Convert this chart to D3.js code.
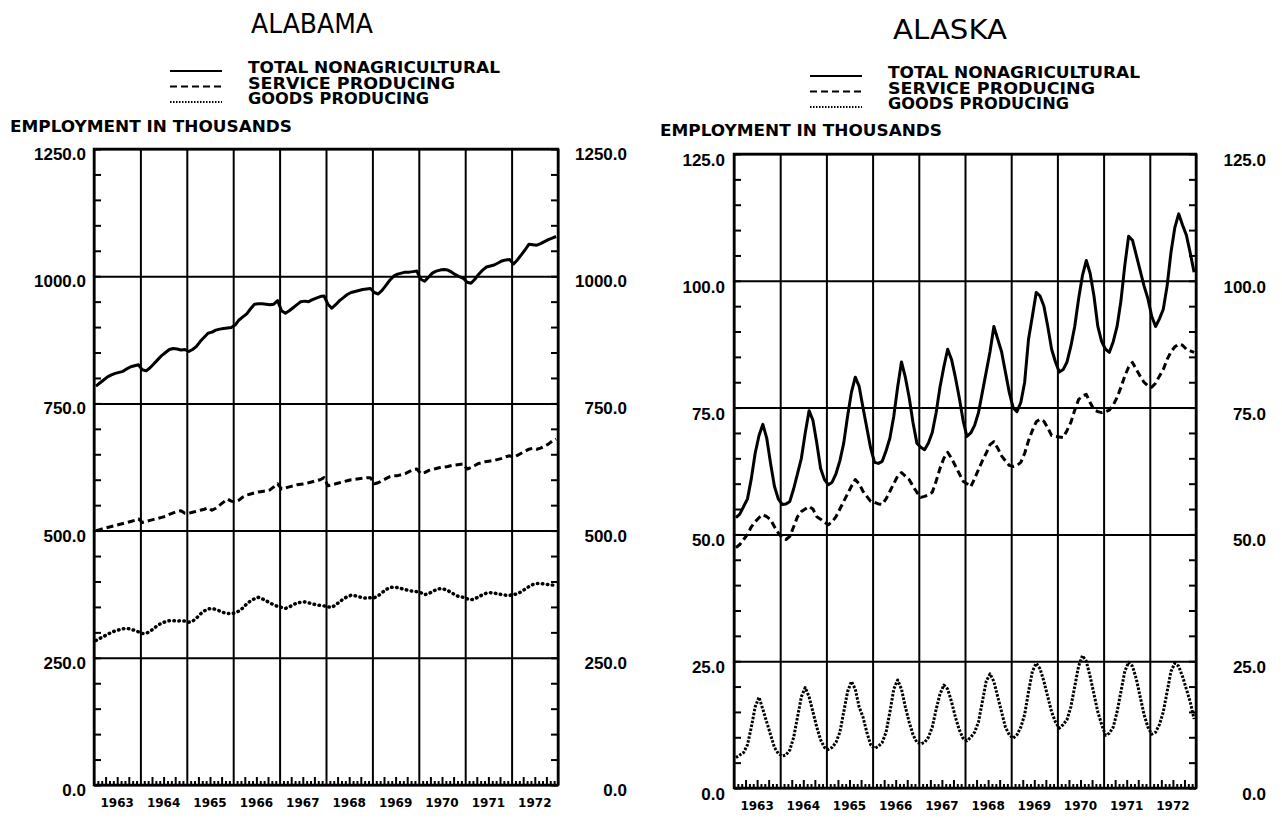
<!DOCTYPE html>
<html>
<head>
<title>EMPLOYMENT</title>
<script src="https://d3js.org/d3.v7.min.js"></script>
<style>
body { margin: 0; background: #ffffff; }
svg { background: #ffffff; font-family: "DejaVu Sans", sans-serif; }
.axis path { display: none; }
.axis line { stroke: #000; stroke-width: 2; }
.tick-lbl text { font-weight: bold; font-size: 17px; fill: #000; }
.year-lbl { font-weight: bold; font-size: 12px; }
.legend-txt { font-size: 15px; font-weight: bold; }
.title { font-size: 27px; }
</style>
</head>
<body>
<svg id="chart" width="1282" height="818"></svg>
<script>
// ---- data (monthly, jan 1963 .. dec 1972, thousands) ----
var years = [1963, 1964, 1965, 1966, 1967, 1968, 1969, 1970, 1971, 1972]
var seriesNames = ["TOTAL NONAGRICULTURAL", "SERVICE PRODUCING", "GOODS PRODUCING"]
var alabamaTicks = [0, 250, 500, 750, 1000, 1250]
var alaskaTicks = [0, 25, 50, 75, 100, 125]

var alabamaTotal = [
  784, 790, 796, 802, 806, 809, 811, 813, 818, 822, 824, 826,
  816, 814, 820, 828, 836, 844, 850, 856, 858, 857, 855, 856,
  852, 856, 862, 872, 880, 888, 890, 894, 896, 897, 898, 899,
  904, 914, 920, 926, 936, 945, 946, 946, 945, 944, 945, 952,
  932, 927, 932, 938, 944, 950, 951, 950, 954, 957, 960, 961,
  945, 937, 944, 952, 958, 964, 968, 970, 972, 974, 975, 976,
  968, 965, 972, 982, 992, 1000, 1004, 1006, 1008, 1008, 1009, 1010,
  994, 990, 998, 1006, 1010, 1012, 1013, 1012, 1008, 1003, 999, 996,
  988, 986, 994, 1004, 1012, 1018, 1020, 1022, 1026, 1030, 1032, 1033,
  1024, 1032, 1042, 1052, 1063, 1062, 1061, 1064, 1068, 1072, 1075, 1078
]
var alabamaService = [
  500, 502, 504, 506, 508, 510, 512, 514, 516, 518, 520, 523,
  516, 518, 520, 522, 524, 526, 528, 532, 535, 538, 539, 534,
  534, 536, 538, 540, 542, 545, 540, 544, 550, 556, 562, 558,
  556, 560, 566, 570, 572, 574, 576, 577, 578, 580, 586, 592,
  582, 584, 586, 588, 590, 591, 592, 594, 596, 598, 600, 604,
  588, 590, 592, 594, 596, 598, 600, 601, 602, 603, 604, 604,
  592, 594, 598, 602, 606, 608, 608, 610, 612, 616, 620, 621,
  612, 614, 618, 620, 622, 624, 625, 626, 628, 629, 630, 631,
  621, 624, 628, 632, 634, 636, 637, 638, 640, 642, 645, 647,
  644, 648, 652, 656, 660, 662, 660, 662, 666, 670, 676, 680
]
var alabamaGoods = [
  284, 288, 292, 296, 300, 303, 305, 307, 308, 306, 304, 301,
  298, 298, 302, 308, 314, 318, 321, 323, 323, 322, 323, 322,
  320, 322, 328, 336, 342, 346, 347, 345, 342, 339, 337, 337,
  338, 342, 348, 356, 362, 366, 369, 366, 362, 358, 354, 351,
  349, 347, 350, 354, 358, 359, 360, 358, 356, 354, 353, 352,
  350, 349, 354, 360, 366, 370, 373, 372, 370, 368, 367, 368,
  368, 372, 378, 384, 388, 389, 388, 386, 384, 382, 381, 380,
  378, 374, 376, 380, 384, 386, 385, 382, 378, 373, 370, 369,
  366, 364, 366, 370, 374, 377, 378, 377, 376, 374, 373, 373,
  374, 376, 380, 385, 390, 394, 396, 396, 395, 394, 393, 392
]

var alaskaTotal = [
  53.3, 54, 55.5, 57, 61, 66, 69.5, 71.7, 69, 64, 59.5, 57,
  55.9, 56, 56.5, 59, 62, 65, 70, 74.4, 72.5, 68, 63, 60.8,
  59.8, 60.3, 62, 64.5, 68, 73.3, 78, 81, 79.2, 75, 71, 67,
  64.2, 64, 64.4, 66.5, 69, 73.3, 79, 84, 81, 77, 72, 68,
  67.2, 66.7, 68, 70.1, 74, 79, 83, 86.5, 84.5, 81, 77, 72.5,
  69.3, 70, 71.5, 74, 78, 82, 86, 91, 88.5, 86, 82, 78,
  75, 74.2, 76, 80, 88.5, 93, 97.7, 97, 95, 91, 86.5, 84,
  82, 82.5, 84, 87.1, 91, 96.4, 101, 104, 101.5, 97, 91, 88,
  86.5, 85.9, 88, 91, 96, 103, 108.8, 108, 105, 102, 99, 96.5,
  93, 91, 92.5, 94.4, 99, 105.6, 110.5, 113.2, 111, 109, 105.5, 101.7
]
var alaskaService = [
  47.4, 48, 49, 50, 51.5, 52.5, 53.3, 53.9, 53.5, 52.9, 51.5, 50.3,
  49.3, 49, 49.6, 51.5, 53.5, 54.5, 55, 55.5, 55, 53.5, 53, 52.4,
  51.9, 52.5, 53.5, 55, 56.5, 58, 59.5, 60.8, 60, 58.5, 57.5, 56.5,
  56.3, 56, 55.9, 57, 58.5, 60, 61.5, 62.2, 61.5, 60.8, 59.5, 58.3,
  57.3, 57.5, 57.8, 58.3, 60.5, 63, 65, 66.2, 65, 63.5, 62, 60.5,
  60, 59.4, 61, 62.8, 64.5, 66, 67.7, 68.3, 67, 65.5, 64.5, 63.6,
  63.4, 63.6, 64.2, 66, 68.5, 70.5, 72.2, 72.7, 72.3, 71, 69.5, 69.3,
  69.2, 69.1, 70.5, 72.1, 74.5, 76.6, 77.3, 77.6, 76, 74.6, 74.2, 74,
  74.2, 74.5, 75.5, 77, 79, 81.2, 83, 83.9, 82.5, 81.2, 80, 79.3,
  79, 79.8, 81.2, 82.5, 84.5, 86, 87, 87.5, 87.3, 86.5, 86.2, 85.9
]
var alaskaGoods = [
  6, 6.5, 7, 8.5, 12, 16, 17.9, 15.5, 13, 10.5, 8, 6.8,
  6.3, 6.5, 7.5, 10, 14, 18, 19.8, 18, 15, 12, 9.5, 8,
  7.6, 8, 9, 11, 15, 19, 21, 19.5, 16, 14, 11, 8.5,
  7.8, 8.2, 9, 11, 15, 19.5, 21.3, 19.5, 16, 13, 10.5, 9,
  8.7, 9, 10, 12, 15.5, 18.5, 20.3, 19.5, 17, 14, 11.5, 9.8,
  9.3, 10, 11, 13, 17, 21, 22.5, 21, 18, 15, 12, 10.5,
  9.8, 10.5, 12, 14.5, 19, 23, 24.6, 23.5, 21, 18, 15, 13,
  11.8, 12.5, 13.5, 16, 20, 24, 26.1, 25, 22, 18.5, 15, 12.5,
  10.4, 10.8, 12, 15, 19, 23, 24.8, 24, 21.5, 18, 14.5, 12,
  10.6, 11, 12.5, 15, 19, 23, 24.6, 24, 22, 19.5, 17, 13.6
]

// line looks: solid, dashed, dotted
var styles = [
  {dash: null, width: 3, cap: "butt"},
  {dash: "7,4", width: 3, cap: "butt"},
  {dash: "0.5,4.5", width: 3.5, cap: "round"}
]

var svg = d3.select("#chart")

function drawPanel(p)
{
    var x = d3.scaleLinear().domain([years[0], years[years.length - 1] + 1]).range([p.left, p.right])
    var y = d3.scaleLinear().domain([0, p.ticks[p.ticks.length - 1]]).range([p.bottom, p.top])
    var g = svg.append("g")
    var w = p.right - p.left

    // title
    g.append("text").attr("class", "title")
        .attr("x", p.titleX).attr("y", p.titleY)
        .attr("text-anchor", "middle")
        .attr("textLength", p.titleLen).attr("lengthAdjust", "spacingAndGlyphs")
        .text(p.title)

    // legend
    seriesNames.forEach(function(name, i) {
        var ly = p.legendY + i * 15.5
        g.append("line")
            .attr("x1", p.legendX).attr("x2", p.legendX + 52)
            .attr("y1", ly - 2).attr("y2", ly - 2)
            .attr("stroke", "#000").attr("stroke-width", 2)
            .attr("stroke-dasharray", i == 0 ? null : (i == 1 ? "7,4" : "1.5,1.5"))
        g.append("text").attr("class", "legend-txt")
            .attr("x", p.legendX + 78).attr("y", ly)
            .attr("textLength", p.legendLens[i]).attr("lengthAdjust", "spacingAndGlyphs")
            .text(name)
    })

    g.append("text").attr("class", "legend-txt")
        .attr("x", p.empX).attr("y", p.empY)
        .attr("textLength", 282).attr("lengthAdjust", "spacingAndGlyphs")
        .text("EMPLOYMENT IN THOUSANDS")

    // horizontal grid at major ticks
    g.append("g").attr("class", "axis")
        .attr("transform", "translate(" + p.left + ",0)")
        .call(d3.axisLeft(y).tickValues(p.ticks).tickSize(-w).tickFormat(""))

    // minor ticks, left and right, pointing inward
    g.append("g").attr("class", "axis")
        .attr("transform", "translate(" + p.left + ",0)")
        .call(d3.axisLeft(y).tickValues(p.minor).tickSize(-7).tickFormat(""))
    g.append("g").attr("class", "axis")
        .attr("transform", "translate(" + p.right + ",0)")
        .call(d3.axisRight(y).tickValues(p.minor).tickSize(-7).tickFormat(""))

    // vertical year lines
    g.append("g").attr("class", "axis")
        .attr("transform", "translate(0," + p.bottom + ")")
        .call(d3.axisBottom(x).tickValues(d3.range(years[0], years[years.length - 1] + 2)).tickSize(-(p.bottom - p.top)).tickFormat(""))

    // monthly ticks along the bottom
    var monthTicks = []
    years.forEach(function(yr) { for (var m = 1; m < 12; m++) monthTicks.push(yr + m / 12) })
    g.append("g").attr("class", "axis")
        .attr("transform", "translate(0," + p.bottom + ")")
        .call(d3.axisBottom(x).tickValues(monthTicks).tickSize(-4).tickFormat(""))
        .selectAll("line")
        .attr("y2", function(d) { var m = Math.round((d % 1) * 12); return m % 3 == 0 ? -8 : -4 })
        .attr("stroke-width", 1.5)

    // frame
    g.append("rect")
        .attr("x", p.left).attr("y", p.top).attr("width", w).attr("height", p.bottom - p.top)
        .attr("fill", "none").attr("stroke", "#000").attr("stroke-width", 2.5)

    // value labels
    var fmt = d3.format(".1f")
    g.append("g").attr("class", "axis tick-lbl")
        .attr("transform", "translate(" + p.left + "," + p.lblDy + ")")
        .call(d3.axisLeft(y).tickValues(p.ticks).tickSize(0).tickPadding(p.left - p.leftLblX).tickFormat(fmt))
    g.append("g").attr("class", "axis tick-lbl")
        .attr("transform", "translate(" + p.rightLblX + "," + p.lblDy + ")")
        .call(d3.axisLeft(y).tickValues(p.ticks).tickSize(0).tickPadding(0).tickFormat(fmt))

    // year labels
    g.selectAll(".year-lbl")
        .data(years)
        .enter().append("text")
        .attr("class", "year-lbl")
        .attr("x", function(d) { return x(d + 0.5) })
        .attr("y", p.yearY)
        .attr("text-anchor", "middle")
        .text(function(d) { return d })

    // series
    var line = d3.line()
        .x(function(d, i) { return x(years[0] + (i + 0.5) / 12) })
        .y(function(d) { return y(d) })

    p.series.forEach(function(s, i) {
        var st = styles[i]
        if (p.goodsDash && i == 2) st = {dash: p.goodsDash, width: 3, cap: "butt"}
        g.append("path")
            .datum(s)
            .attr("d", line)
            .attr("fill", "none")
            .attr("stroke", "#000")
            .attr("stroke-width", st.width)
            .attr("stroke-linejoin", "round")
            .attr("stroke-linecap", st.cap)
            .attr("stroke-dasharray", st.dash)
    })
}

drawPanel({
    title: "ALABAMA", titleX: 312, titleY: 33, titleLen: 122,
    left: 94, right: 558, top: 149, bottom: 785,
    ticks: alabamaTicks, minor: d3.range(0, 1251, 50),
    leftLblX: 86, rightLblX: 627, lblDy: 5,
    legendX: 170, legendY: 73, legendLens: [252, 207, 181],
    empX: 10, empY: 132, yearY: 807,
    series: [alabamaTotal, alabamaService, alabamaGoods]
})

drawPanel({
    title: "ALASKA", titleX: 950, titleY: 39, titleLen: 114,
    left: 734, right: 1196, top: 154, bottom: 788,
    ticks: alaskaTicks, minor: d3.range(0, 126, 5),
    leftLblX: 725, rightLblX: 1266, lblDy: 6,
    legendX: 810, legendY: 78, legendLens: [252, 207, 181],
    empX: 660, empY: 136, yearY: 810,
    goodsDash: "2.5,1.5",
    series: [alaskaTotal, alaskaService, alaskaGoods]
})
</script>
</body>
</html>
